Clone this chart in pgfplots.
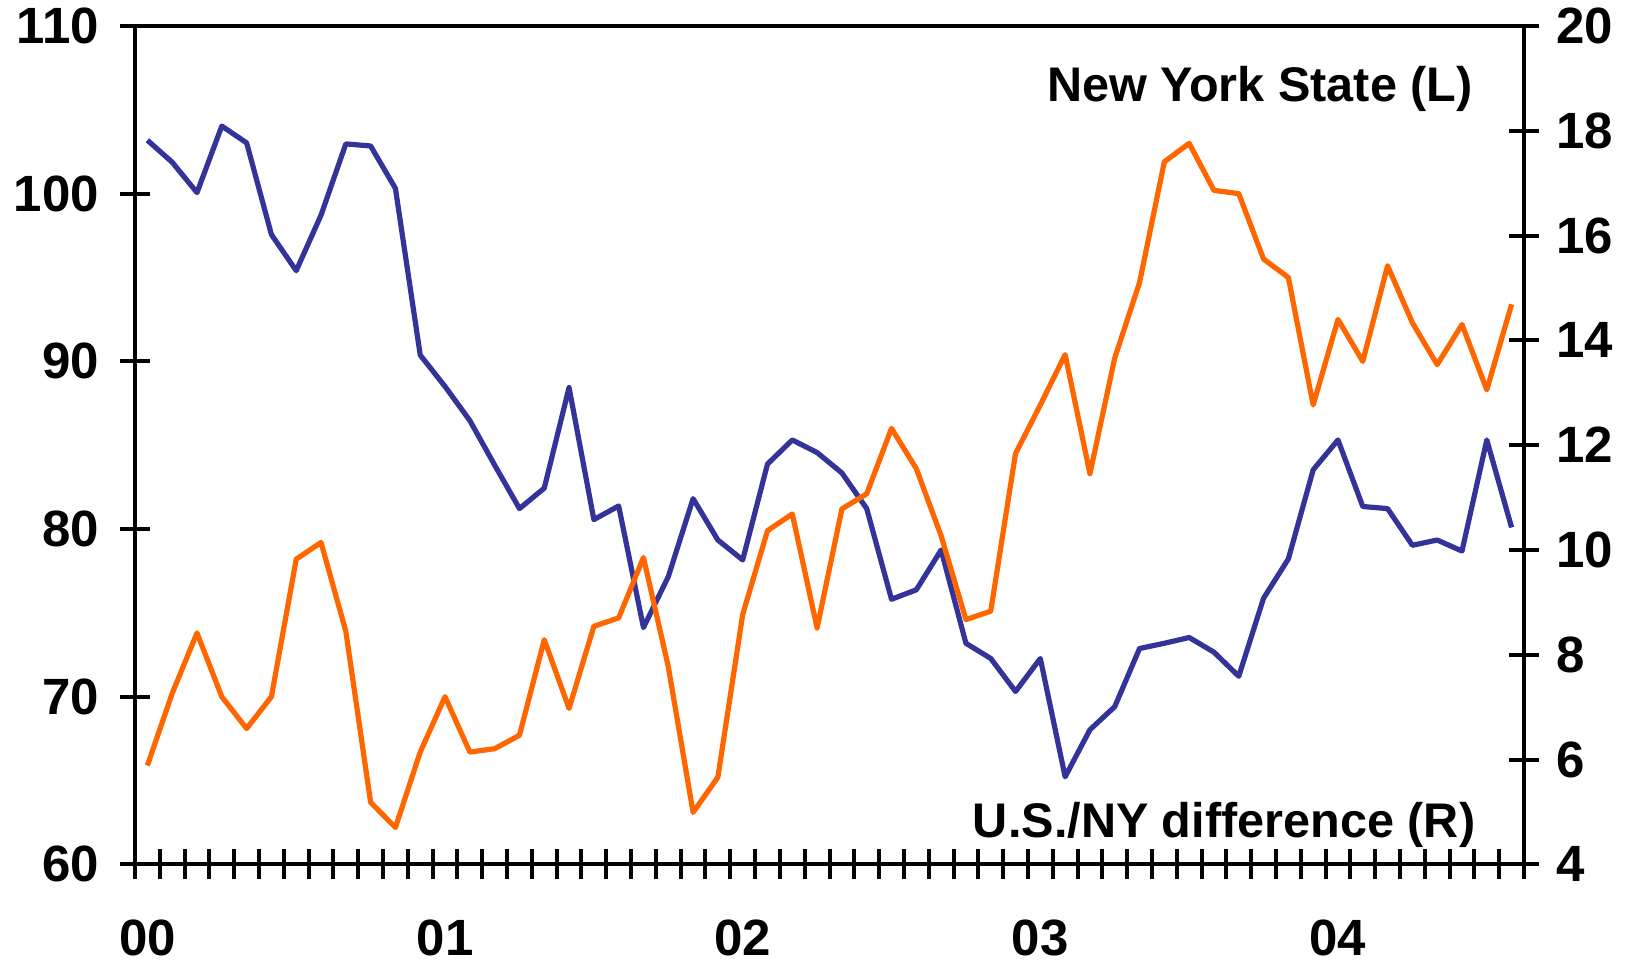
\documentclass[border=0pt]{standalone}
\usepackage{pgfplots}
\pgfplotsset{compat=1.18}
\usepackage{fontspec}
\setmainfont{Liberation Sans}
\definecolor{nyorange}{HTML}{FF6600}
\definecolor{nyblue}{HTML}{333399}
\pgfplotstableread{
i ny
0 65.9
1 70.2
2 73.8
3 70.0
4 68.1
5 70.0
6 78.2
7 79.2
8 73.9
9 63.7
10 62.2
11 66.7
12 70.0
13 66.7
14 66.9
15 67.7
16 73.4
17 69.3
18 74.2
19 74.7
20 78.3
21 71.8
22 63.1
23 65.2
24 74.9
25 79.9
26 80.9
27 74.1
28 81.2
29 82.1
30 86.0
31 83.6
32 79.6
33 74.6
34 75.1
35 84.5
36 87.4
37 90.4
38 83.3
39 90.2
40 94.7
41 101.9
42 103.0
43 100.2
44 100.0
45 96.1
46 95.0
47 87.4
48 92.5
49 90.0
50 95.7
51 92.3
52 89.8
53 92.2
54 88.3
55 93.4
}\nydata
\pgfplotstableread{
i diff
0 17.82
1 17.40
2 16.82
3 18.09
4 17.77
5 16.02
6 15.33
7 16.39
8 17.75
9 17.71
10 16.90
11 13.72
12 13.12
13 12.47
14 11.62
15 10.79
16 11.18
17 13.10
18 10.58
19 10.84
20 8.52
21 9.49
22 10.98
23 10.19
24 9.81
25 11.64
26 12.10
27 11.86
28 11.47
29 10.79
30 9.06
31 9.24
32 10.00
33 8.22
34 7.93
35 7.30
36 7.93
37 5.67
38 6.57
39 7.01
40 8.12
41 8.22
42 8.33
43 8.05
44 7.59
45 9.08
46 9.83
47 11.53
48 12.10
49 10.83
50 10.79
51 10.09
52 10.19
53 9.98
54 12.10
55 10.43
}\diffdata
\begin{document}
\begin{tikzpicture}
\pgfplotsset{
  common/.style={
    scale only axis, width=694.5pt, height=419.2pt,
    xmin=-0.5, xmax=55.5,
    tick align=center,
    major tick length=15pt,
    axis line style={line width=2pt},
    every tick/.style={line width=2pt, black},
    ticklabel style={font=\fontsize{25.5}{25.5}\selectfont\bfseries},
    /pgf/number format/assume math mode=true,
    line join=round,
  }
}
\begin{axis}[common,
  ymin=60, ymax=110, ytick={60,70,...,110},
  xtick={-0.5,0.5,...,55.5}, xticklabels={},
  xtick pos=bottom, ytick pos=left,
  yticklabel style={anchor=east, xshift=-7pt},
]
\addplot[draw=none] table[x=i, y=ny] {\nydata};
\node[anchor=east, font=\fontsize{24.3}{24.3}\selectfont\bfseries] at (axis cs:53.72,106.25) {New York State (L)};
\node[anchor=east, font=\fontsize{24.3}{24.3}\selectfont\bfseries] at (axis cs:53.82,62.35) {U.S./NY difference (R)};
\end{axis}
\begin{axis}[common,
  ymin=60, ymax=110,
  axis x line*=bottom, axis y line=none,
  xtick={0,12,24,36,48}, xticklabels={00,01,02,03,04},
  major tick length=0pt,
  xticklabel style={yshift=-24pt},
]
\addplot[draw=none] table[x=i, y=ny] {\nydata};
\end{axis}
\begin{axis}[common,
  ymin=4, ymax=20, ytick={4,6,...,20},
  axis x line=none, axis y line*=right,
  yticklabel style={anchor=west, xshift=5pt},
]
\addplot[draw=nyblue, line width=2.6pt] table[x=i, y=diff] {\diffdata};
\end{axis}
\begin{axis}[common, ymin=60, ymax=110, hide axis]
\addplot[draw=nyorange, line width=2.6pt] table[x=i, y=ny] {\nydata};
\end{axis}
\path[use as bounding box] (-67.5pt,-49.3pt) rectangle (747pt,432.2pt);
\end{tikzpicture}
\end{document}
